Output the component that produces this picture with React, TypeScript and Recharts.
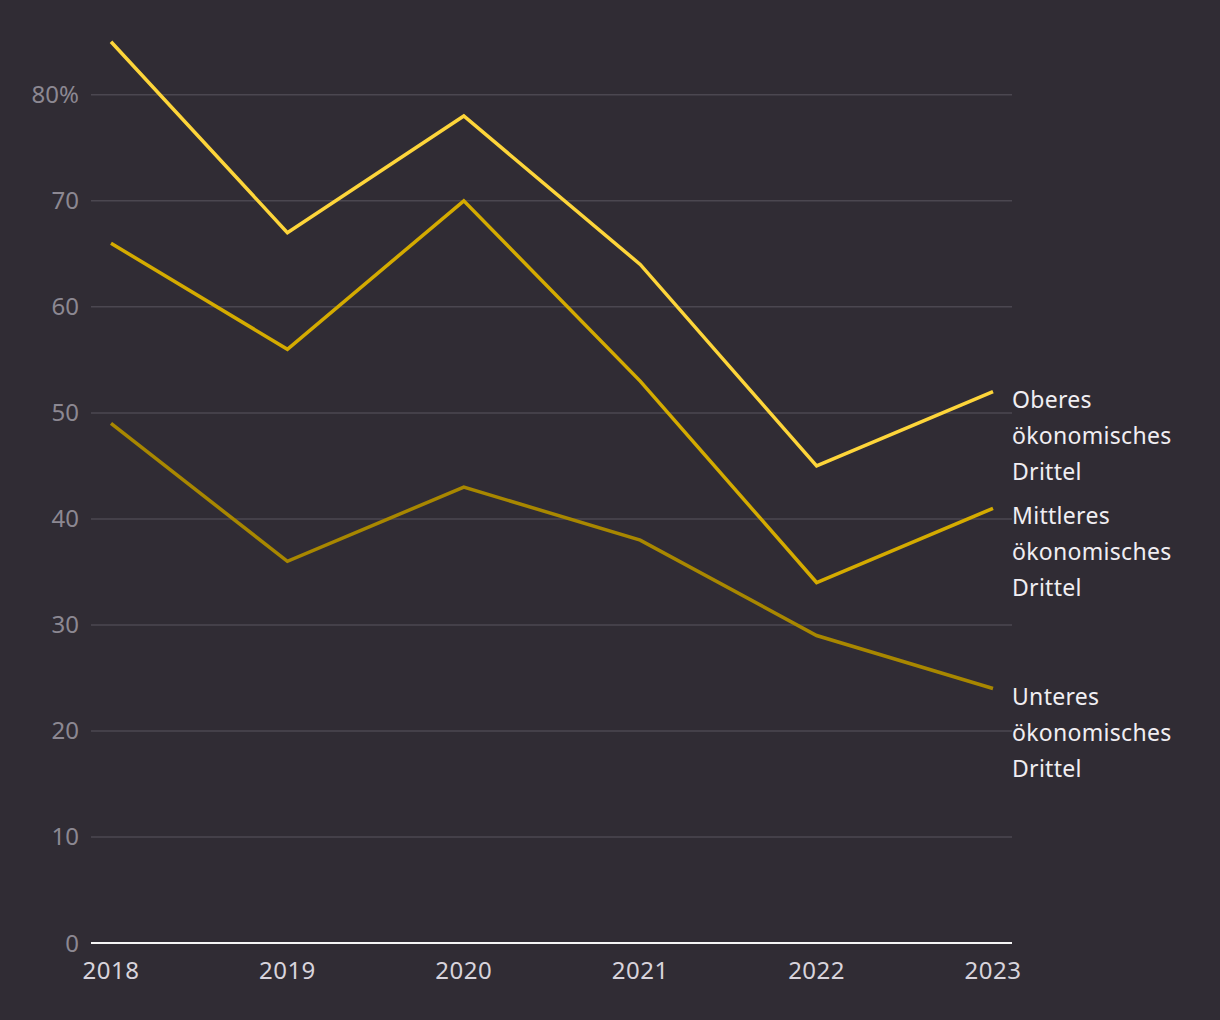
import React from "react";
import { LineChart, Line, XAxis, YAxis, ReferenceLine } from "recharts";

const years = [2018, 2019, 2020, 2021, 2022, 2023];
const oberes = [85, 67, 78, 64, 45, 52];
const mittleres = [66, 56, 70, 53, 34, 41];
const unteres = [49, 36, 43, 38, 29, 24];
const yTicks = [0, 10, 20, 30, 40, 50, 60, 70, 80];

const seriesNames = {
  oberes: ["Oberes", "ökonomisches", "Drittel"],
  mittleres: ["Mittleres", "ökonomisches", "Drittel"],
  unteres: ["Unteres", "ökonomisches", "Drittel"],
};

const data = years.map((y, i) => ({
  year: y,
  oberes: oberes[i],
  mittleres: mittleres[i],
  unteres: unteres[i],
}));

const FONT = "'Noto Sans', sans-serif";
const BG = "#302c34";

const makeEndLabel = (lines: string[]) => (props: any) => {
  const { x, y, index } = props;
  if (index !== years.length - 1) return null;
  return (
    <text x={x + 19} y={y + 16} fill="#f0eef2" fontSize={23} fontFamily={FONT} letterSpacing={0.3}>
      {lines.map((l, i) => (
        <tspan key={i} x={x + 19} dy={i === 0 ? 0 : 36}>
          {l}
        </tspan>
      ))}
    </text>
  );
};

export default function App() {
  return (
    <div style={{ position: "fixed", left: 0, top: 0, width: 1220, height: 1020, background: BG }}>
      <LineChart
        width={1220}
        height={1020}
        data={data}
        margin={{ top: 10, right: 208, bottom: 37, left: 0 }}
      >
        <XAxis
          dataKey="year"
          type="number"
          domain={[2018, 2023]}
          ticks={years}
          padding={{ left: 20, right: 19 }}
          axisLine={false}
          tickLine={false}
          tickSize={0}
          tickMargin={19}
          height={40}
          tick={{ fill: "#d8d4dc", fontSize: 24, fontFamily: FONT, letterSpacing: 0.5 }}
        />
        <YAxis
          type="number"
          domain={[0, 88]}
          ticks={yTicks}
          width={91}
          axisLine={false}
          tickLine={false}
          tickSize={0}
          tickMargin={12}
          tickFormatter={(v: number) => (v === 80 ? "80%" : String(v))}
          tick={{ fill: "#8c8892", fontSize: 24, fontFamily: FONT }}
        />
        {yTicks
          .filter((t) => t !== 0)
          .map((t) => (
            <ReferenceLine key={t} y={t} stroke="#4b4750" strokeWidth={1.5} />
          ))}
        <ReferenceLine y={0} stroke="#f5f5f5" strokeWidth={2} />
        <Line
          dataKey="unteres"
          stroke="#a88700"
          strokeWidth={3.5}
          dot={false}
          isAnimationActive={false}
          label={makeEndLabel(seriesNames.unteres)}
        />
        <Line
          dataKey="mittleres"
          stroke="#d4ab00"
          strokeWidth={3.5}
          dot={false}
          isAnimationActive={false}
          label={makeEndLabel(seriesNames.mittleres)}
        />
        <Line
          dataKey="oberes"
          stroke="#fdd53a"
          strokeWidth={3.5}
          dot={false}
          isAnimationActive={false}
          label={makeEndLabel(seriesNames.oberes)}
        />
      </LineChart>
    </div>
  );
}
